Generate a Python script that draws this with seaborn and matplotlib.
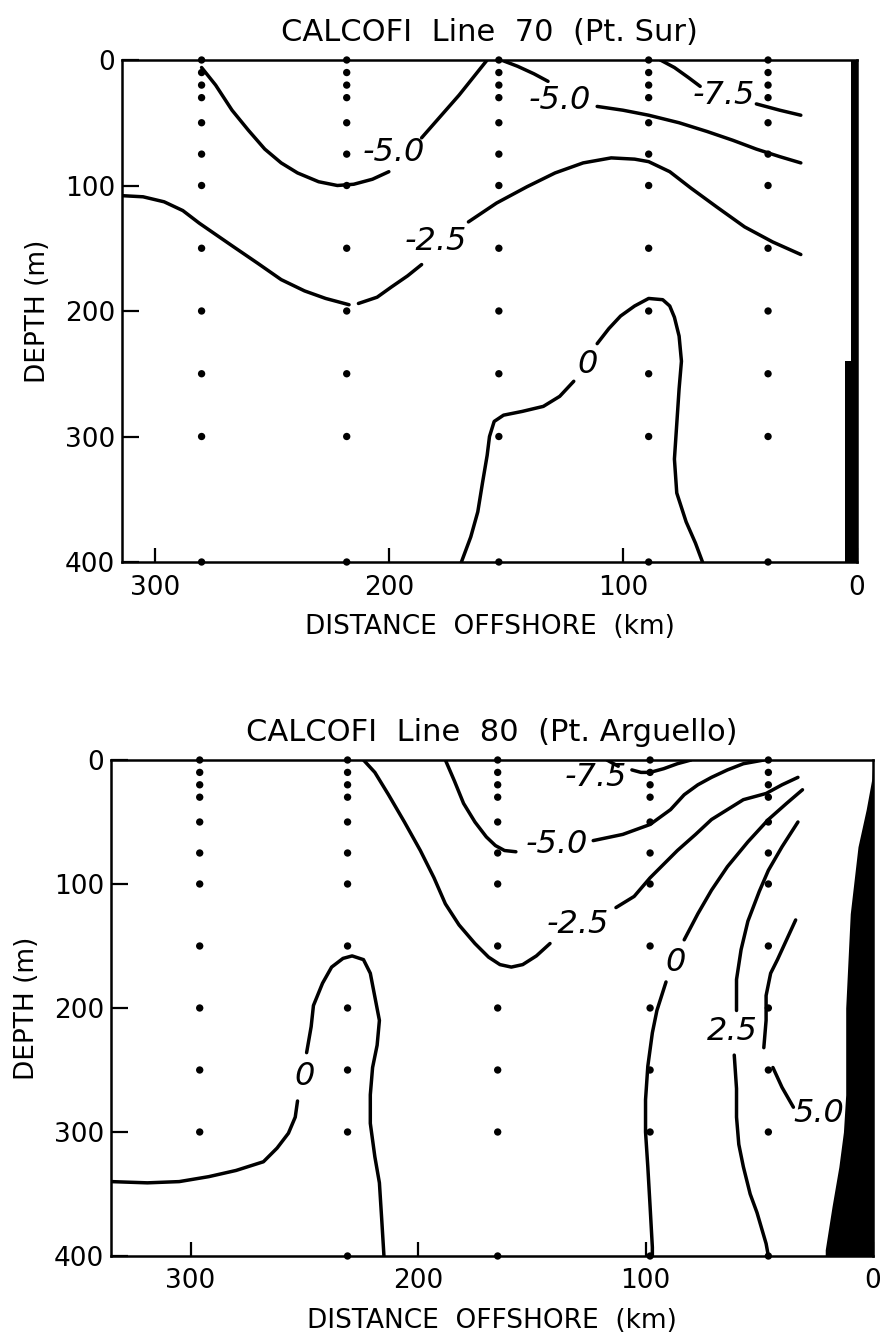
import pandas as pd
import seaborn as sns
import matplotlib.pyplot as plt

#######################################################################
# Data (distance offshore in km, depth in m)
#######################################################################

std_depths = [0, 10, 20, 30, 50, 75, 100, 150, 200, 250, 300, 400]

# Line 70 (Pt. Sur)
sur_stations = [280, 218, 153, 89, 38]

sur_m50_a = [(280, 6), (274, 20), (267, 40), (260, 56), (253, 71), (246, 82),
             (239, 90), (230, 97), (222, 100), (215, 99), (207, 95), (200, 89)]
sur_m50_b = [(186, 62), (178, 45), (170, 28), (164, 14), (158, 0)]
sur_m50_c = [(152, 0), (145, 5), (138, 11), (132, 17)]
sur_m50_d = [(111, 37), (100, 40), (89, 44), (76, 50), (64, 57), (53, 64),
             (43, 71), (33, 77), (24, 82)]
sur_m75_a = [(84, 0), (78, 6), (72, 14), (67, 21)]
sur_m75_b = [(43, 35), (33, 40), (24, 44)]
sur_m25_a = [(315, 108), (305, 109), (296, 113), (288, 120), (281, 130),
             (267, 148), (256, 162), (246, 175), (236, 184), (227, 190), (217, 195)]
sur_m25_b = [(213, 194), (205, 189), (199, 181), (192, 172), (186, 163)]
sur_m25_c = [(166, 129), (154, 114), (141, 101), (129, 90), (117, 82), (105, 78),
             (95, 79), (89, 81), (80, 89), (71, 102), (60, 117), (48, 133),
             (36, 145), (24, 155)]
sur_z_a = [(169, 400), (165, 380), (162, 360), (160, 337), (158, 315), (157, 300),
           (155, 288), (151, 283), (143, 280), (134, 276), (127, 268), (121, 256)]
sur_z_b = [(111, 226), (106, 214), (101, 204), (95, 196), (89, 190), (83, 191),
           (80, 196), (78, 205), (76, 220), (75, 240), (76, 262), (77, 290),
           (78, 318), (77, 345), (73, 368), (69, 385), (66, 400)]

sur_labels = [("-5.0", 198, 74), ("-5.0", 127, 32), ("-7.5", 57, 28),
              ("-2.5", 180, 145), ("0", 115, 243)]

sur_land_depth = [0, 240, 240, 400]
sur_land_km = [2.5, 2.5, 5, 5]

# Line 80 (Pt. Arguello)
arg_stations = [296, 231, 165, 98, 46]

arg_z1_a = [(335, 340), (319, 341), (305, 340), (292, 336), (280, 331), (268, 324),
            (262, 313), (257, 301), (254, 288), (253, 275)]
arg_z1_b = [(249, 236), (247, 215), (246, 198), (242, 180), (238, 167), (233, 160),
            (229, 158), (224, 161), (221, 172), (219, 191), (217, 210), (218, 230),
            (220, 248), (221, 270), (221, 293), (219, 320), (217, 341), (216, 370),
            (215, 400)]
arg_m25_a = [(224, 0), (219, 10), (213, 28), (206, 50), (199, 73), (193, 95),
             (188, 116), (182, 133), (175, 148), (169, 159), (164, 165), (159, 167),
             (154, 165), (148, 158), (142, 148)]
arg_m25_b = [(113, 119), (105, 110), (98, 95), (92, 84), (86, 73), (78, 60),
             (71, 48), (64, 40), (57, 32), (47, 27), (40, 20), (33, 14)]
arg_m50_a = [(188, 0), (184, 17), (180, 35), (175, 50), (170, 62), (166, 69),
             (162, 73), (157, 74)]
arg_m50_b = [(123, 65), (110, 60), (98, 52), (89, 40), (83, 28), (77, 20),
             (71, 14), (64, 8), (57, 3), (48, 0)]
arg_m75_a = [(117, 0), (114, 3), (112, 5)]
arg_m75_b = [(106, 8), (102, 10), (98, 10), (92, 7), (86, 3), (80, 0)]
arg_z2_a = [(31, 24), (38, 35), (46, 48), (55, 66), (64, 86), (71, 105),
            (77, 124), (83, 145)]
arg_z2_b = [(91, 179), (95, 202), (97, 220), (99, 247), (100, 274), (100, 300),
            (99, 328), (98, 360), (97, 393), (97, 400)]
arg_p25_a = [(33, 50), (40, 70), (46, 89), (50, 106), (55, 130), (58, 153),
             (60, 177), (60, 202)]
arg_p25_b = [(61, 238), (60, 265), (60, 288), (59, 310), (57, 328), (54, 350),
             (51, 365), (47, 390), (46, 400)]
arg_p50_a = [(34, 129), (38, 145), (42, 161), (45, 172), (47, 190), (47, 210),
             (48, 232)]
arg_p50_b = [(44, 248), (40, 264), (35, 280)]

arg_labels = [("-7.5", 122, 14), ("-5.0", 139, 68), ("-2.5", 130, 133),
              ("0", 87, 163), ("0", 250, 255), ("2.5", 62, 219), ("5.0", 24, 285)]

arg_land_depth = [0, 15, 40, 70, 124, 200, 270, 300, 328, 360, 395, 400]
arg_land_km = [0, 0.5, 3, 6.6, 10, 12, 12, 13, 15, 18, 21, 21]

#######################################################################
# Plotting
#######################################################################

sns.set_style("ticks")
plt.rcParams["font.family"] = ["DejaVu Sans"]
plt.rcParams["text.color"] = "black"
plt.rcParams["axes.labelcolor"] = "black"
plt.rcParams["axes.edgecolor"] = "black"
plt.rcParams["xtick.color"] = "black"
plt.rcParams["ytick.color"] = "black"

fig = plt.figure(figsize=(8.84, 13.33), dpi=100)
W, H = 884, 1333
ax1 = fig.add_axes([122 / W, 1 - 562 / H, (857 - 122) / W, (562 - 60) / H])
ax2 = fig.add_axes([111 / W, 1 - 1256 / H, (873 - 111) / W, (1256 - 760) / H])


def draw_line(ax, pts):
    df = pd.DataFrame(pts, columns=["km", "depth"])
    sns.lineplot(data=df, x="km", y="depth", sort=False, estimator=None,
                 color="black", linewidth=2.5, ax=ax)


def draw_panel(ax, title, stations, skip, segments, labels, land_km, land_depth, xmax):
    rows = [(s, d) for s in stations for d in std_depths if (s, d) not in skip]
    dots = pd.DataFrame(rows, columns=["km", "depth"])
    sns.scatterplot(data=dots, x="km", y="depth", color="black", s=28,
                    edgecolor="none", clip_on=False, zorder=5, ax=ax)
    for seg in segments:
        draw_line(ax, seg)
    for txt, k, d in labels:
        ax.text(k, d, txt, fontsize=23, style="italic", ha="center", va="center")
    ax.fill_betweenx(land_depth, 0, land_km, color="black", lw=0)

    ax.set_xlim(xmax, 0)
    ax.set_ylim(400, 0)
    ax.set_xticks([300, 200, 100, 0])
    ax.set_yticks([0, 100, 200, 300, 400])
    ax.tick_params(axis="x", direction="in", length=10, width=1.6, pad=9, labelsize=19)
    ax.tick_params(axis="y", direction="in", length=12, width=1.6, pad=5, labelsize=19)
    for sp in ax.spines.values():
        sp.set_visible(True)
        sp.set_linewidth(1.8)
    ax.set_title(title, fontsize=22, pad=14)
    ax.set_xlabel("DISTANCE  OFFSHORE  (km)", fontsize=19, labelpad=10)
    ax.set_ylabel("DEPTH (m)", fontsize=19, labelpad=10)


draw_panel(ax1, "CALCOFI  Line  70  (Pt. Sur)", sur_stations, [],
           [sur_m50_a, sur_m50_b, sur_m50_c, sur_m50_d, sur_m75_a, sur_m75_b,
            sur_m25_a, sur_m25_b, sur_m25_c, sur_z_a, sur_z_b],
           sur_labels, sur_land_km, sur_land_depth, 314)

draw_panel(ax2, "CALCOFI  Line  80  (Pt. Arguello)", arg_stations, [(296, 400)],
           [arg_z1_a, arg_z1_b, arg_m25_a, arg_m25_b, arg_m50_a, arg_m50_b,
            arg_m75_a, arg_m75_b, arg_z2_a, arg_z2_b, arg_p25_a, arg_p25_b,
            arg_p50_a, arg_p50_b],
           arg_labels, arg_land_km, arg_land_depth, 335)

fig.savefig("out.png", dpi=100)
